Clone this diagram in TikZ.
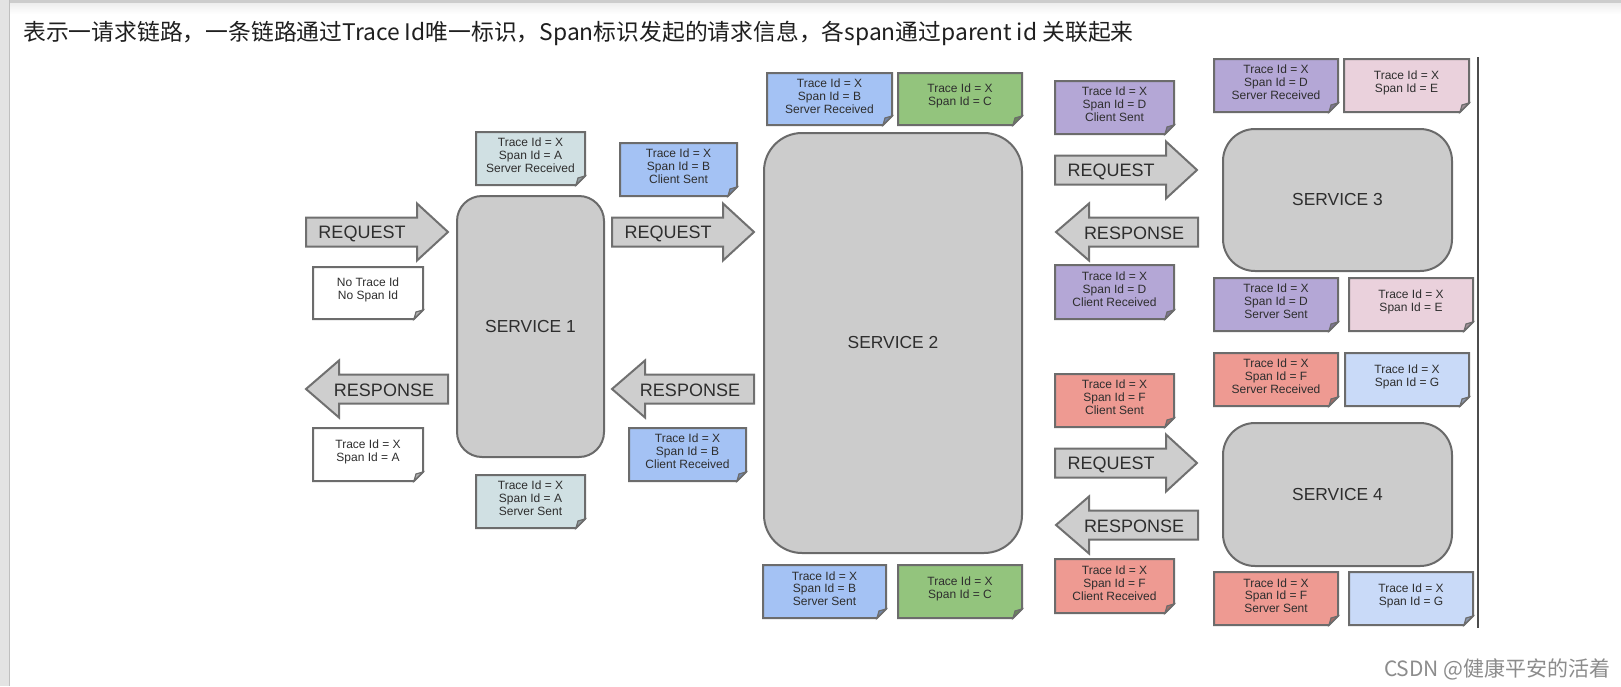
\documentclass[tikz,border=0pt]{standalone}
\usepackage{fontspec}
\setmainfont{Liberation Sans}
\newfontfamily\cjkfont{Noto Sans CJK SC}
\definecolor{svcfill}{HTML}{CCCCCC}
\definecolor{svcline}{HTML}{6A6A6A}
\definecolor{arrfill}{HTML}{CECECE}
\definecolor{arrline}{HTML}{707070}
\definecolor{noteline}{HTML}{6C6C6C}
\definecolor{txt}{HTML}{2E2E2E}
\definecolor{cA}{HTML}{D0E0E3}
\definecolor{cB}{HTML}{A4C2F4}
\definecolor{cC}{HTML}{93C47D}
\definecolor{cD}{HTML}{B4A7D6}
\definecolor{cE}{HTML}{EAD1DC}
\definecolor{cF}{HTML}{EE9A92}
\definecolor{cG}{HTML}{C9DAF8}
\definecolor{cW}{HTML}{FFFFFF}
\tikzset{
  svcbox/.style={draw=svcline, fill=svcfill, line width=1pt, text=txt,
    font=\fontsize{8.7}{10}\selectfont, inner sep=0pt},
  blockarrow/.style={draw=arrline, fill=arrfill, line width=1pt, line join=miter},
  arrowtext/.style={text=txt, font=\fontsize{9}{10}\selectfont, inner sep=0pt},
  notebox/.style={draw=noteline, line width=1pt, line join=miter},
  notetext/.style={text=txt, align=center, inner sep=0pt,
    font=\fontsize{6}{6.4}\selectfont},
}
\newcommand\spannote[7]{%
  \draw[notebox, fill=#6] (#2,#3) -- (#4,#3) -- (#4,#5-9) -- (#4-9,#5) -- (#2,#5) -- cycle;
  \filldraw[fill=#6!70!black, draw=noteline, line width=0.6pt] (#4,#5-9) -- (#4-9,#5) -- (#4-7,#5-7) -- cycle;
  \node[notetext] (#1) at ({(#2+#4)/2},{(#3+#5)/2-3}) {#7};
}
\newcommand\rightblock[4]{%
  \draw[blockarrow] (#2,#3-14.5) -- (#2+111,#3-14.5) -- (#2+111,#3-28.5) -- (#2+142,#3)
    -- (#2+111,#3+28.5) -- (#2+111,#3+14.5) -- (#2,#3+14.5) -- cycle;
  \node[arrowtext] (#1) at (#2+56,#3+1.5) {#4};
}
\newcommand\leftblock[4]{%
  \draw[blockarrow] (#2+142,#3-14.5) -- (#2+33,#3-14.5) -- (#2+33,#3-28.5) -- (#2,#3)
    -- (#2+33,#3+28.5) -- (#2+33,#3+14.5) -- (#2+142,#3+14.5) -- cycle;
  \node[arrowtext] (#1) at (#2+78,#3+1.5) {#4};
}
\begin{document}
\begin{tikzpicture}[x=0.5pt,y=-0.5pt]
\useasboundingbox (0,0) rectangle (1621,686);
\fill[white] (0,0) rectangle (1621,686);
% window chrome
\shade[top color=gray!14, bottom color=white] (0,3) rectangle (1621,14);
\fill[gray!40] (0,0) rectangle (1621,3);
\fill[gray!22] (0,0) rectangle (9,686);
\draw[gray!50, line width=0.8pt] (9.5,0) -- (9.5,686);
% title
\node[anchor=west, inner sep=0pt, text=black!88, font=\cjkfont\fontsize{11.4}{13}\selectfont] (title) at (23,33)
  {表示一请求链路，一条链路通过Trace Id唯一标识，Span标识发起的请求信息，各span通过parent id 关联起来};
% services
\node[svcbox, minimum width=73.5pt, minimum height=130.5pt, rounded corners=12.5pt] (s1) at (530.5,326.5) {SERVICE 1};
\node[svcbox, minimum width=129pt, minimum height=210pt, rounded corners=19pt] (s2) at (893,343) {SERVICE 2};
\node[svcbox, minimum width=114.5pt, minimum height=71pt, rounded corners=16pt] (s3) at (1337.5,200) {SERVICE 3};
\node[svcbox, minimum width=114.5pt, minimum height=71.5pt, rounded corners=16pt] (s4) at (1337.5,494.5) {SERVICE 4};
% arrows
\rightblock{req1}{306}{232}{REQUEST}
\leftblock{resp1}{306}{389}{RESPONSE}
\rightblock{req2}{612}{232}{REQUEST}
\leftblock{resp2}{612}{389}{RESPONSE}
\rightblock{req3}{1055}{170}{REQUEST}
\leftblock{resp3}{1056}{232}{RESPONSE}
\rightblock{req4}{1055}{463}{REQUEST}
\leftblock{resp4}{1056}{525}{RESPONSE}
% notes
\spannote{nA1}{476}{132}{585}{185}{cA}{Trace Id = X\\Span Id = A\\Server Received}
\spannote{n0}{313}{267}{423}{319}{cW}{No Trace Id\\No Span Id}
\spannote{nA2}{313}{428}{423}{481}{cW}{Trace Id = X\\Span Id = A}
\spannote{nA3}{476}{475}{585}{528}{cA}{Trace Id = X\\Span Id = A\\Server Sent}
\spannote{nB1}{620}{143}{737}{196}{cB}{Trace Id = X\\Span Id = B\\Client Sent}
\spannote{nB2}{767}{73}{892}{125}{cB}{Trace Id = X\\Span Id = B\\Server Received}
\spannote{nC1}{898}{73}{1022}{125}{cC}{Trace Id = X\\Span Id = C}
\spannote{nB3}{629}{428}{746}{481}{cB}{Trace Id = X\\Span Id = B\\Client Received}
\spannote{nB4}{763}{565}{886}{618}{cB}{Trace Id = X\\Span Id = B\\Server Sent}
\spannote{nC2}{898}{565}{1022}{618}{cC}{Trace Id = X\\Span Id = C}
\spannote{nD1}{1055}{81}{1174}{134}{cD}{Trace Id = X\\Span Id = D\\Client Sent}
\spannote{nD2}{1214}{59}{1338}{112}{cD}{Trace Id = X\\Span Id = D\\Server Received}
\spannote{nE1}{1344}{59}{1469}{112}{cE}{Trace Id = X\\Span Id = E}
\spannote{nD3}{1055}{265}{1174}{319}{cD}{Trace Id = X\\Span Id = D\\Client Received}
\spannote{nD4}{1214}{278}{1338}{331}{cD}{Trace Id = X\\Span Id = D\\Server Sent}
\spannote{nE2}{1349}{278}{1473}{331}{cE}{Trace Id = X\\Span Id = E}
\spannote{nF1}{1055}{374}{1174}{427}{cF}{Trace Id = X\\Span Id = F\\Client Sent}
\spannote{nF2}{1214}{353}{1338}{406}{cF}{Trace Id = X\\Span Id = F\\Server Received}
\spannote{nG1}{1345}{353}{1469}{406}{cG}{Trace Id = X\\Span Id = G}
\spannote{nF3}{1055}{559}{1174}{613}{cF}{Trace Id = X\\Span Id = F\\Client Received}
\spannote{nF4}{1214}{572}{1338}{625}{cF}{Trace Id = X\\Span Id = F\\Server Sent}
\spannote{nG2}{1349}{572}{1473}{625}{cG}{Trace Id = X\\Span Id = G}
% right border line
\coordinate (vt) at (1478,57);
\coordinate (vb) at (1478,628);
\draw[black!70, line width=1pt] (vt) -- (vb);
% watermark
\node[anchor=east, inner sep=0pt, text=black!45, font=\cjkfont\fontsize{10.5}{12}\selectfont] (mark) at (1611,669) {CSDN @健康平安的活着};
\end{tikzpicture}
\end{document}
